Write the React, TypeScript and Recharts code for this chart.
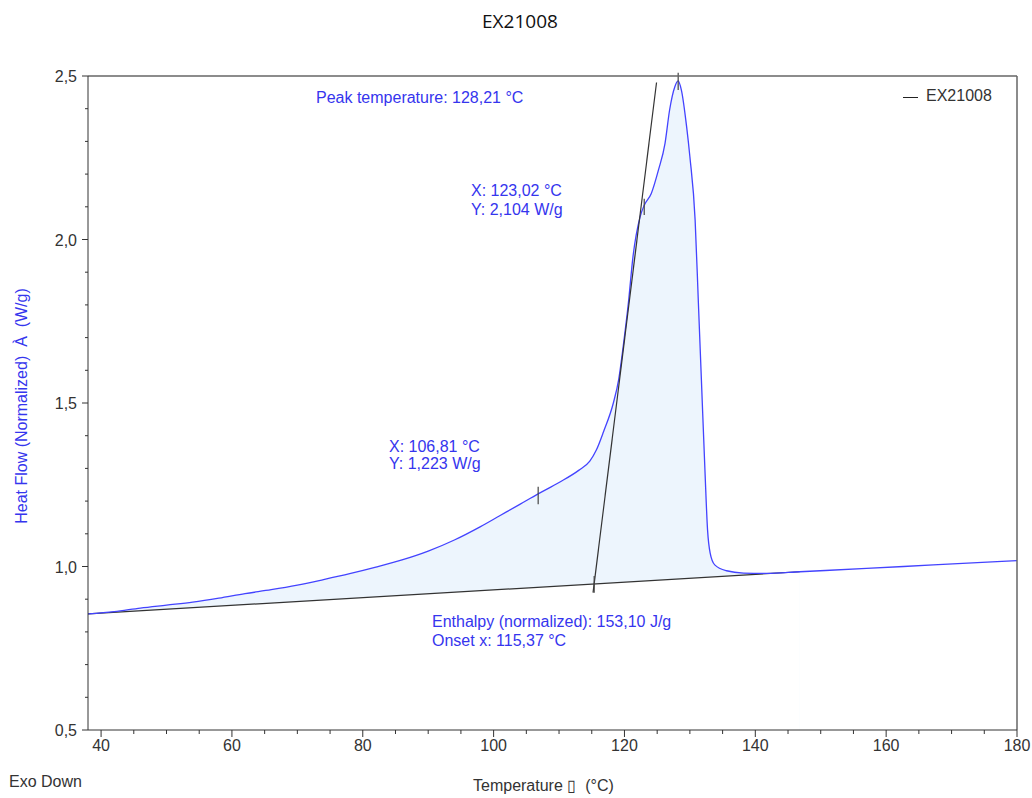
import React from 'react';
import { ComposedChart, Line, Area, XAxis, YAxis, ReferenceLine } from 'recharts';

// DSC trace
const temperature = [
  38, 42, 46, 50, 54, 58, 62, 66, 70, 74, 78, 82, 86, 90, 94, 98, 101, 104, 106.8, 110,
  113, 114.7, 115.7, 116.8, 118.3, 119.1, 119.8, 120.6, 121.3, 122.4, 123.0, 124.1, 125.2,
  126.2, 126.9, 127.7, 128.2, 128.7, 129.5, 130.0, 130.8, 131.3, 131.8, 132.3, 132.7, 133.1,
  133.8, 135.6, 138.2, 141.7, 146.8, 157, 167.2, 180,
];
const heatFlow = [
  0.855, 0.862, 0.873, 0.882, 0.891, 0.903, 0.917, 0.929, 0.943, 0.96, 0.978, 0.998, 1.02,
  1.047, 1.081, 1.122, 1.156, 1.19, 1.222, 1.257, 1.294, 1.322, 1.356, 1.412, 1.5, 1.57, 1.672,
  1.806, 1.947, 2.07, 2.104, 2.141, 2.213, 2.294, 2.396, 2.467, 2.485, 2.457, 2.345, 2.253,
  2.06, 1.806, 1.55, 1.295, 1.112, 1.041, 1.005, 0.987, 0.98, 0.979, 0.984, 0.994, 1.005, 1.018,
];

// integration baseline and onset tangent
const baselineTemp = [38, 146.8];
const baselineFlow = [0.855, 0.984];
const tangentTemp = [115.2, 124.9];
const tangentFlow = [0.92, 2.48];

// little vertical marks at the analysed points
const markerTemp = [106.81, 115.37, 123.02, 128.21];
const markerLow = [1.19, 0.92, 2.075, 2.457];
const markerHigh = [1.244, 0.971, 2.125, 2.51];

const xTicks = [
  40, 45, 50, 55, 60, 65, 70, 75, 80, 85, 90, 95, 100, 105, 110, 115, 120, 125, 130, 135, 140,
  145, 150, 155, 160, 165, 170, 175, 180,
];
const yTicks = [
  0.5, 0.6, 0.7, 0.8, 0.9, 1.0, 1.1, 1.2, 1.3, 1.4, 1.5, 1.6, 1.7, 1.8, 1.9, 2.0, 2.1, 2.2, 2.3,
  2.4, 2.5,
];

const FONT = '"Liberation Sans", Arial, sans-serif';
const BLUE_TEXT = '#3535ee';
const CURVE = '#4343ff';

const curve = temperature.map((x, i) => ({ x, y: heatFlow[i] }));
const filled = curve.filter((p) => p.x <= baselineTemp[1]);
const baseline = baselineTemp.map((x, i) => ({ x, y: baselineFlow[i] }));
const tangent = tangentTemp.map((x, i) => ({ x, y: tangentFlow[i] }));

const XTick = (props: any) => {
  const { x, y, payload } = props;
  const major = payload.value % 20 === 0;
  return (
    <g>
      <line x1={x} x2={x} y1={y} y2={y + (major ? 7 : 4)} stroke="#333" />
      {major && (
        <text x={x} y={y + 21} textAnchor="middle" fontSize={16} fill="#333" fontFamily={FONT}>
          {payload.value}
        </text>
      )}
    </g>
  );
};

const YTick = (props: any) => {
  const { x, y, payload } = props;
  const major = Math.round(payload.value * 10) % 5 === 0;
  return (
    <g>
      <line x1={x - (major ? 6 : 3)} x2={x} y1={y} y2={y} stroke="#333" />
      {major && (
        <text x={x - 11} y={y + 6} textAnchor="end" fontSize={16} fill="#333" fontFamily={FONT}>
          {payload.value.toFixed(1).replace('.', ',')}
        </text>
      )}
    </g>
  );
};

const txt = (left: number, top: number, color: string, s: string, size = 16) => (
  <div
    style={{
      position: 'absolute',
      left,
      top: top - 10,
      lineHeight: '20px',
      fontSize: size,
      color,
      fontFamily: FONT,
      whiteSpace: 'pre',
    }}
  >
    {s}
  </div>
);

export default function App() {
  return (
    <div style={{ position: 'absolute', left: 0, top: 0, width: 1032, height: 798, background: '#fff' }}>
      <ComposedChart width={1032} height={798} margin={{ top: 76, right: 15, bottom: 38, left: 28 }}>
        <Area
          data={filled}
          dataKey="y"
          type="monotone"
          fill="#edf5fd"
          fillOpacity={1}
          stroke="none"
          baseValue={0.5}
          isAnimationActive={false}
        />
        <Area
          data={baseline}
          dataKey="y"
          type="linear"
          fill="#fff"
          fillOpacity={1}
          stroke="none"
          baseValue={0.5}
          isAnimationActive={false}
        />
        <Line data={baseline} dataKey="y" type="linear" stroke="#333" strokeWidth={1.2} dot={false} isAnimationActive={false} />
        <Line data={curve} dataKey="y" type="monotone" stroke={CURVE} strokeWidth={1.3} dot={false} isAnimationActive={false} />
        <Line data={tangent} dataKey="y" type="linear" stroke="#333" strokeWidth={1.2} dot={false} isAnimationActive={false} />
        {markerTemp.map((t, i) => (
          <ReferenceLine
            key={t}
            segment={[{ x: t, y: markerLow[i] }, { x: t, y: markerHigh[i] }]}
            stroke="#444"
            strokeWidth={1.2}
            ifOverflow="visible"
          />
        ))}
        <ReferenceLine y={2.5} stroke="#666" strokeWidth={1.5} />
        <ReferenceLine x={180} stroke="#666" strokeWidth={1.5} />
        <XAxis
          dataKey="x"
          type="number"
          domain={[38, 180]}
          ticks={xTicks}
          interval={0}
          allowDataOverflow
          height={30}
          stroke="#333"
          tickSize={0}
          tickMargin={0}
          tick={<XTick />}
        />
        <YAxis
          type="number"
          domain={[0.5, 2.5]}
          ticks={yTicks}
          interval={0}
          allowDataOverflow
          width={60}
          stroke="#333"
          tickSize={0}
          tickMargin={0}
          tick={<YTick />}
        />
      </ComposedChart>

      <div
        style={{
          position: 'absolute',
          left: 0,
          width: 1040,
          top: 8,
          textAlign: 'center',
          fontSize: 19,
          fontFamily: '"Open Sans", sans-serif',
          color: '#111',
        }}
      >
        EX21008
      </div>

      <div
        style={{
          position: 'absolute',
          left: 22,
          top: 406,
          transform: 'translate(-50%, -50%) rotate(-90deg)',
          fontSize: 16,
          fontFamily: FONT,
          color: BLUE_TEXT,
          whiteSpace: 'pre',
        }}
      >
        {'Heat Flow (Normalized)  À  (W/g)'}
      </div>

      {txt(473, 786, '#333', 'Temperature \u25AF  (°C)')}
      {txt(9, 782, '#333', 'Exo Down')}

      <div style={{ position: 'absolute', left: 903, top: 97, width: 15, borderTop: '1px solid #222' }} />
      {txt(926, 96, '#333', 'EX21008')}

      {txt(316, 98, BLUE_TEXT, 'Peak temperature: 128,21 °C')}
      {txt(471, 191, BLUE_TEXT, 'X: 123,02 °C')}
      {txt(471, 210, BLUE_TEXT, 'Y: 2,104 W/g')}
      {txt(389, 447, BLUE_TEXT, 'X: 106,81 °C')}
      {txt(389, 464, BLUE_TEXT, 'Y: 1,223 W/g')}
      {txt(432, 622, BLUE_TEXT, 'Enthalpy (normalized): 153,10 J/g')}
      {txt(432, 641, BLUE_TEXT, 'Onset x: 115,37 °C')}
    </div>
  );
}
